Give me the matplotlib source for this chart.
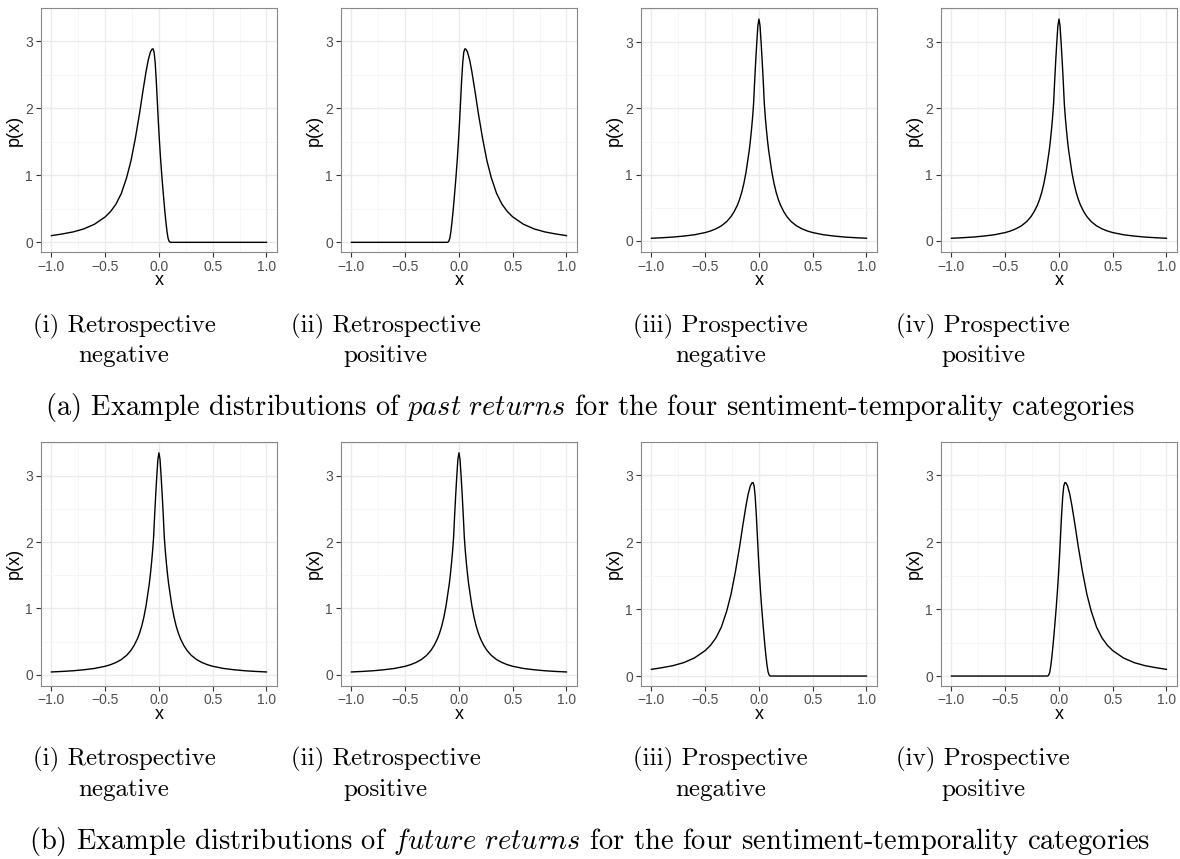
import numpy as np
import matplotlib
matplotlib.use('Agg')
import matplotlib.pyplot as plt

# symmetric density (right half), mirrored for the left half
sym_x_half = [0.0, 0.01, 0.02, 0.03, 0.04, 0.05, 0.06, 0.07, 0.08, 0.09, 0.10, 0.12, 0.14,
              0.16, 0.18, 0.20, 0.23, 0.26, 0.30, 0.35, 0.40, 0.45, 0.50, 0.60, 0.70, 0.80,
              0.90, 1.00]
sym_y_half = [3.35, 3.25, 3.0, 2.72, 2.41, 2.07, 1.85, 1.67, 1.51, 1.37, 1.26, 1.04, 0.87,
              0.734, 0.628, 0.542, 0.444, 0.367, 0.292, 0.227, 0.183, 0.15, 0.126, 0.093,
              0.073, 0.058, 0.048, 0.04]

# skewed density, long left tail (negative case); the positive case is its mirror image
skew_x = [-1.0, -0.9, -0.8, -0.7, -0.6, -0.5, -0.45, -0.4, -0.35, -0.3, -0.26, -0.22, -0.18,
          -0.15, -0.12, -0.1, -0.08, -0.065, -0.055, -0.045, -0.035, -0.025, -0.015, -0.005,
          0.005, 0.015, 0.025, 0.035, 0.045, 0.055, 0.065, 0.075, 0.085, 0.095, 0.105, 1.0]
skew_y = [0.10, 0.125, 0.155, 0.2, 0.27, 0.38, 0.46, 0.57, 0.73, 0.97, 1.22, 1.55, 1.93,
          2.25, 2.55, 2.72, 2.84, 2.885, 2.89, 2.84, 2.68, 2.42, 2.1, 1.78,
          1.5, 1.25, 1.03, 0.83, 0.64, 0.46, 0.3, 0.16, 0.06, 0.015, 0.0, 0.0]

x_ticks = [-1.0, -0.5, 0.0, 0.5, 1.0]
x_minor = [-0.75, -0.25, 0.25, 0.75]
y_ticks = [0, 1, 2, 3]
y_minor = [0.5, 1.5, 2.5, 3.5]

sub_line1 = ['(i) Retrospective', '(ii) Retrospective', '(iii) Prospective', '(iv) Prospective']
sub_line2 = ['negative', 'positive', 'negative', 'positive']
row_captions = [r'(a) Example distributions of $\mathit{past\ returns}$ for the four sentiment-temporality categories',
                r'(b) Example distributions of $\mathit{future\ returns}$ for the four sentiment-temporality categories']
# which curve goes in each panel, row by row
row_curves = [['skew_neg', 'skew_pos', 'sym', 'sym'],
              ['sym', 'sym', 'skew_neg', 'skew_pos']]

sym_x = np.concatenate([-np.array(sym_x_half[::-1]), np.array(sym_x_half[1:])])
sym_y = np.concatenate([np.array(sym_y_half[::-1]), np.array(sym_y_half[1:])])
curves = {
    'sym': (sym_x, sym_y),
    'skew_neg': (np.array(skew_x), np.array(skew_y)),
    'skew_pos': (-np.array(skew_x), np.array(skew_y)),
}

W, H = 1180, 859
plt.rcParams['mathtext.fontset'] = 'cm'
plt.rcParams['font.family'] = ['Liberation Sans', 'DejaVu Sans']
fig = plt.figure(figsize=(W / 100, H / 100), dpi=100)

col_left = [40.7, 340.7, 640.7, 940.7]
row_top = [8, 441.7]
ax_w, ax_h = 236.5, 244
cap_x = [124, 385.5, 720.5, 983]
row_shift = 433.7

for r in range(2):
    for c in range(4):
        ax = fig.add_axes([col_left[c] / W, 1 - (row_top[r] + ax_h) / H, ax_w / W, ax_h / H])
        xs, ys = curves[row_curves[r][c]]
        ax.plot(xs, ys, color='black', lw=1.0)
        ymax = ys.max()
        ax.set_xlim(-1.1, 1.1)
        ax.set_ylim(-0.05 * ymax, 1.05 * ymax)
        ax.set_xticks(x_ticks)
        ax.set_xticklabels([('%.1f' % v).replace('-', '\u2212') for v in x_ticks])
        ax.set_xticks(x_minor, minor=True)
        ax.set_yticks(y_ticks)
        ax.set_yticks(y_minor, minor=True)
        ax.grid(which='major', color='#ebebeb', lw=1.0)
        ax.grid(which='minor', color='#f5f5f5', lw=0.6)
        ax.set_axisbelow(True)
        ax.tick_params(which='major', length=3.5, width=0.8, color='#333333',
                       labelsize=10, labelcolor='#4d4d4d', pad=2)
        ax.tick_params(which='minor', length=0)
        for s in ax.spines.values():
            s.set_color('#888888')
            s.set_linewidth(0.8)
        ax.set_xlabel('x', fontsize=13, labelpad=-1)
        ax.set_ylabel('p(x)', fontsize=13, labelpad=2)

        y0 = r * row_shift
        fig.text(cap_x[c] / W, 1 - (332 + y0) / H, sub_line1[c], family='cmr10',
                 fontsize=18, ha='center', va='baseline')
        fig.text(cap_x[c] / W, 1 - (362 + y0) / H, sub_line2[c], family='cmr10',
                 fontsize=18, ha='center', va='baseline')
    fig.text(590 / W, 1 - (415 + r * row_shift) / H, row_captions[r], family='cmr10',
             fontsize=20.5, ha='center', va='baseline')

fig.savefig('out.png', dpi=100)
